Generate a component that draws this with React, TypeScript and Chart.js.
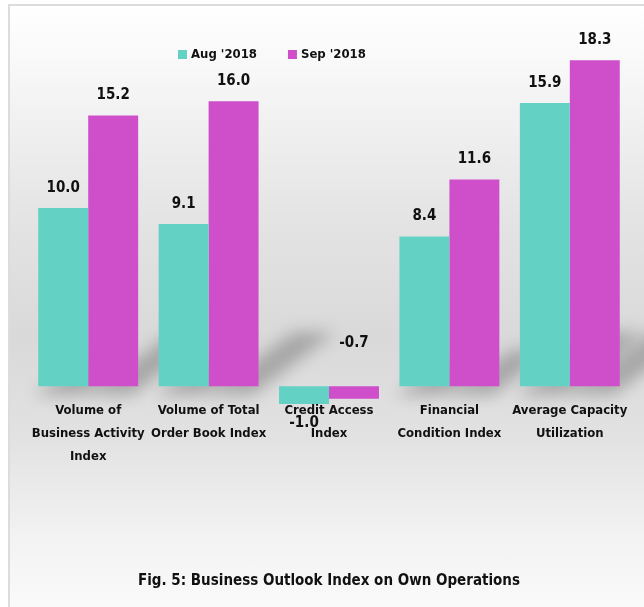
import React, { useEffect, useRef } from "react";
import { Chart, registerables } from "chart.js";

Chart.register(...registerables);

const categories: string[][] = [
  ["Volume of", "Business Activity", "Index"],
  ["Volume of Total", "Order Book Index"],
  ["Credit Access", "Index"],
  ["Financial", "Condition Index"],
  ["Average Capacity", "Utilization"],
];
const seriesNames = ["Aug '2018", "Sep '2018"];
const augValues = [10.0, 9.1, -1.0, 8.4, 15.9];
const sepValues = [15.2, 16.0, -0.7, 11.6, 18.3];
const seriesColors = ["#63D2C5", "#CF4FCB"];
const titleText = "Fig. 5: Business Outlook Index on Own Operations";

const FONT = "'Liberation Sans Narrow', 'DejaVu Sans Condensed', 'Liberation Sans', sans-serif";

const shadowPlugin = {
  id: "perspShadow",
  beforeDatasetsDraw(chart: any) {
    const ctx = chart.ctx as CanvasRenderingContext2D;
    ctx.save();
    ctx.filter = "blur(8px)";
    ctx.fillStyle = "rgba(0,0,0,0.24)";
    chart.data.datasets.forEach((_ds: any, i: number) => {
      const meta = chart.getDatasetMeta(i);
      meta.data.forEach((bar: any) => {
        const { x, y, base, width } = bar.getProps(["x", "y", "base", "width"], true);
        const h = base - y;
        if (h <= 0) return;
        const x1 = x - width / 2;
        const x2 = x + width / 2;
        const b = base + 9;
        const dx = h * 0.3;
        const dy = h * 0.22;
        ctx.beginPath();
        ctx.moveTo(x1 - 4, b);
        ctx.lineTo(x2 - 6, b);
        ctx.lineTo(x2 + dx - 10, b - dy);
        ctx.lineTo(x1 + dx, b - dy);
        ctx.closePath();
        ctx.fill();
      });
    });
    ctx.restore();
  },
};

const labelPlugin = {
  id: "valueLabels",
  afterDatasetsDraw(chart: any) {
    const ctx = chart.ctx as CanvasRenderingContext2D;
    ctx.save();
    ctx.font = `bold 15px ${FONT}`;
    ctx.fillStyle = "#111";
    ctx.textAlign = "center";
    ctx.textBaseline = "middle";
    chart.data.datasets.forEach((ds: any, i: number) => {
      const meta = chart.getDatasetMeta(i);
      meta.data.forEach((bar: any, j: number) => {
        const v = ds.data[j] as number;
        const { x, y, base } = bar.getProps(["x", "y", "base"], true);
        let ly: number;
        if (v >= 0) ly = y - 20;
        else if (i === 0) ly = y + 19;
        else ly = base - 43;
        ctx.fillText(v.toFixed(1), x, ly);
      });
    });
    ctx.restore();
  },
};

const legendPlugin = {
  id: "customLegend",
  afterDraw(chart: any) {
    const ctx = chart.ctx as CanvasRenderingContext2D;
    ctx.save();
    ctx.font = `bold 13px ${FONT}`;
    ctx.textBaseline = "middle";
    ctx.textAlign = "left";
    let x = 168;
    const yc = 49;
    chart.data.datasets.forEach((ds: any) => {
      ctx.fillStyle = ds.backgroundColor;
      ctx.fillRect(x, yc - 5, 9, 9);
      ctx.fillStyle = "#111";
      ctx.fillText(ds.label, x + 13, yc);
      x += 13 + ctx.measureText(ds.label).width + 31;
    });
    ctx.restore();
  },
};

export default function App() {
  const ref = useRef<HTMLCanvasElement | null>(null);
  useEffect(() => {
    if (!ref.current) return;
    const chart = new Chart(ref.current, {
      type: "bar",
      data: {
        labels: categories,
        datasets: [
          { label: seriesNames[0], data: augValues, backgroundColor: seriesColors[0] },
          { label: seriesNames[1], data: sepValues, backgroundColor: seriesColors[1] },
        ],
      },
      options: {
        responsive: false,
        animation: false,
        devicePixelRatio: 1,
        layout: { padding: { left: 18, right: 14, top: 24, bottom: 0 } },
        datasets: { bar: { categoryPercentage: 0.83, barPercentage: 1.0 } },
        scales: {
          x: {
            grid: { display: false, drawTicks: false },
            border: { display: false },
            ticks: {
              padding: -5,
              color: "#111",
              font: { family: FONT, size: 13, weight: "bold", lineHeight: 1.77 },
              maxRotation: 0,
              autoSkip: false,
            },
          },
          y: { display: false, min: -1, max: 20 },
        },
        plugins: {
          legend: { display: false },
          tooltip: { enabled: false },
          title: {
            display: true,
            position: "bottom",
            text: titleText,
            color: "#111",
            font: { family: FONT, size: 15, weight: "bold", lineHeight: 1.2 },
            padding: { top: 109, bottom: 17 },
          },
        },
      },
      plugins: [shadowPlugin, labelPlugin, legendPlugin],
    });
    return () => chart.destroy();
  }, []);

  return (
    <div
      style={{
        position: "absolute",
        left: 8,
        top: 4,
        width: 634,
        height: 601,
        borderTop: "2px solid #dcdcdc",
        borderLeft: "2px solid #dcdcdc",
        background:
          "linear-gradient(to bottom, #ffffff 0%, #f8f8f8 10%, #e4e4e4 35%, #d9d9d9 55%, #e2e2e2 72%, #f2f2f2 88%, #fafafa 100%)",
      }}
    >
      <canvas ref={ref} width={634} height={601} style={{ display: "block" }} />
    </div>
  );
}
